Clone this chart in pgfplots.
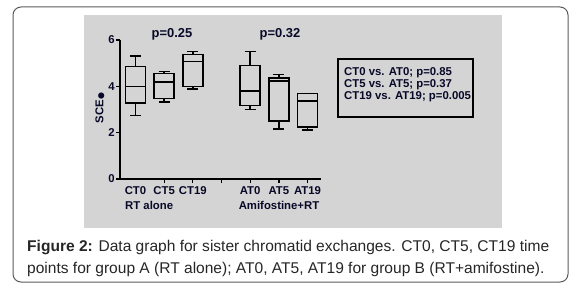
\documentclass[border=0pt]{standalone}
\usepackage{pgfplots}
\pgfplotsset{compat=1.18}
\usepgfplotslibrary{statistics}
\usepackage{fontspec}
\setmainfont{Liberation Sans}
\newfontfamily\dejavu{DejaVu Sans}
\definecolor{panel}{RGB}{212,212,212}
\definecolor{ink}{RGB}{8,8,40}
\definecolor{framec}{RGB}{90,90,90}
\newcommand{\lbl}{\bfseries\fontsize{11.4}{12}\selectfont}
\begin{document}
\begin{tikzpicture}[x=1bp,y=1bp]
\path (0,0) rectangle (580,291);
\draw[framec, line width=1bp, rounded corners=8bp] (13,284) rectangle (568,9);
\fill[panel] (84,276) rectangle (502,63);
\begin{axis}[
  at={(120bp,112bp)}, anchor=south west,
  scale only axis, width=201bp, height=139bp,
  xmin=0.46, xmax=7.47, ymin=0, ymax=6,
  axis lines=left,
  axis line style={-, line width=1.5bp, black},
  tick style={black, line width=1.3bp},
  major tick length=4bp, tick align=outside,
  ytick={0,2,4,6},
  yticklabel style={font=\lbl, text=ink, inner sep=1bp},
  /pgf/number format/assume math mode=true,
  xtick={2,3,4,5,6,7},
  xticklabels={CT5,CT19,,AT0,AT5,AT19},
  extra x ticks={1}, extra x tick labels={CT0},
  extra x tick style={tick style={draw=none}},
  xticklabel style={font=\lbl, text=ink, anchor=north, inner sep=0pt, yshift=-3bp},
  clip=false,
  boxplot/draw direction=y,
  boxplot/box extend=0.7, boxplot/whisker extend=0.38,
]
\addplot[black, line width=1.5bp, boxplot prepared={draw position=1,
  lower whisker=2.74, lower quartile=3.27, median=3.99, upper quartile=4.85, upper whisker=5.31}] coordinates {};
\addplot[black, line width=1.5bp, boxplot prepared={draw position=2,
  lower whisker=3.32, lower quartile=3.47, median=4.18, upper quartile=4.56, upper whisker=4.64}] coordinates {};
\addplot[black, line width=1.5bp, boxplot prepared={draw position=3,
  lower whisker=3.88, lower quartile=3.99, median=5.08, upper quartile=5.38, upper whisker=5.50}] coordinates {};
\addplot[black, line width=1.5bp, boxplot prepared={draw position=5,
  lower whisker=3.01, lower quartile=3.17, median=3.79, upper quartile=4.91, upper whisker=5.50}] coordinates {};
\addplot[black, line width=1.5bp, boxplot prepared={draw position=6,
  lower whisker=2.15, lower quartile=2.50, median=4.22, upper quartile=4.35, upper whisker=4.52}] coordinates {};
\addplot[black, line width=1.5bp, boxplot prepared={draw position=7,
  lower whisker=2.11, lower quartile=2.24, median=3.36, upper quartile=3.70, upper whisker=3.70}] coordinates {};
\end{axis}
% y label
\node[rotate=90, text=ink, font=\lbl, inner sep=0pt] at (100,183) {SCE{\dejavu\fontsize{8}{8}\selectfont ●}};
% group labels
\node[anchor=base west, text=ink, font=\lbl, inner sep=0pt] at (125,82) {RT alone};
\node[anchor=base, text=ink, font=\lbl, inner sep=0pt] at (279,82) {Amifostine+RT};
% p values
\node[anchor=base, text=ink, font=\bfseries\fontsize{13}{13}\selectfont, inner sep=0pt] at (172,254) {p=0.25};
\node[anchor=base, text=ink, font=\bfseries\fontsize{13}{13}\selectfont, inner sep=0pt] at (280,254) {p=0.32};
% stats box
\draw[black, line width=2bp] (338,232) rectangle (473,174);
\node[anchor=base west, text=ink, font=\lbl, inner sep=0pt] at (344,216) {CT0 vs. AT0; p=0.85};
\node[anchor=base west, text=ink, font=\lbl, inner sep=0pt] at (344,204) {CT5 vs. AT5; p=0.37};
\node[anchor=base west, text=ink, font=\lbl, inner sep=0pt] at (344,192) {CT19 vs. AT19; p=0.005};
% caption
\node[anchor=base west, text=black!85, font=\fontsize{15.6}{16}\selectfont, inner sep=0pt] at (27,40) {\textbf{Figure 2:} Data graph for sister chromatid exchanges. CT0, CT5, CT19 time};
\node[anchor=base west, text=black!85, font=\fontsize{15.6}{16}\selectfont, inner sep=0pt] at (27,18) {points for group A (RT alone); AT0, AT5, AT19 for group B (RT+amifostine).};
\end{tikzpicture}
\end{document}
